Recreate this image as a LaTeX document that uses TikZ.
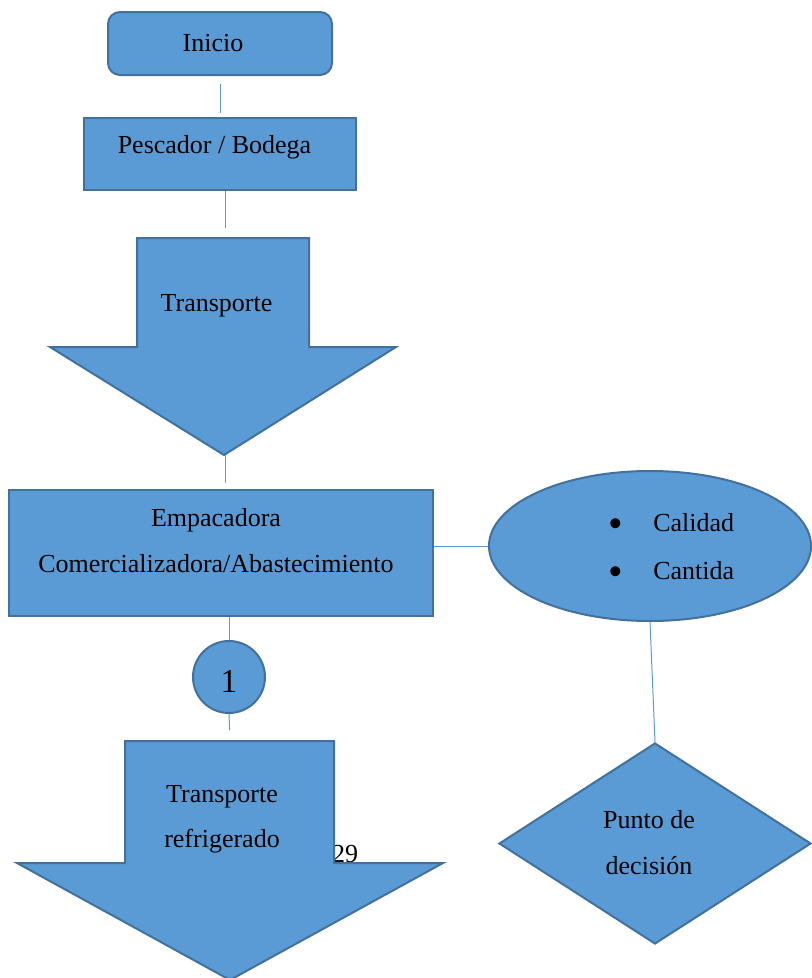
\documentclass[tikz,border=0pt]{standalone}
\usepackage{fontspec}
\setmainfont{Liberation Serif}
\usepackage{xcolor}
\definecolor{officeblue}{RGB}{91,155,213}
\definecolor{officeedge}{RGB}{65,113,156}
\usetikzlibrary{shapes.geometric}
\tikzset{
  box/.style={draw=officeedge, fill=officeblue, line width=1.5pt, inner sep=0pt},
  link/.style={draw=officeblue, line width=0.75pt},
  lbl/.style={font=\fontsize{19.5}{23}\selectfont, inner sep=0pt, anchor=base}
}
\newcommand\bigdot{\makebox[34.5pt][l]{\hspace{1pt}\raisebox{-4.5pt}{\scalebox{1.6}{\textbullet}}}}

\begin{document}
\begin{tikzpicture}[x=0.75pt,y=-0.75pt]
\useasboundingbox (0,0) rectangle (811,978);
\node[box, rounded corners=9pt, minimum width=168pt, minimum height=47.25pt] (inicio) at (220,43.5) {};
\node[lbl] (inicioT) at (213,51) {Inicio};
\node[box, minimum width=204pt, minimum height=54pt] (pesc) at (220,154) {};
\node[lbl] (pescT) at (214.5,153) {Pescador / Bodega};
\draw[box, line join=miter] (137,238) -- (309,238) -- (309,347) -- (396,347)
    -- (224,455) -- (50,347) -- (137,347) -- cycle;
\coordinate (tr1top) at (225,238);
\coordinate (tr1tip) at (225,455);
\node[lbl] (tr1T) at (216.5,311) {Transporte};
\node[box, minimum width=318pt, minimum height=94.5pt] (emp) at (221,553) {};
\node[lbl] (empT) at (216,526) {Empacadora};
\node[lbl] (comT) at (216,572) {Comercializadora/Abastecimiento};
\node[box, ellipse, minimum width=241.5pt, minimum height=112.5pt] (ell) at (650,546) {};
\node[lbl, anchor=base west] (calT) at (607,531) {\bigdot Calidad};
\node[lbl, anchor=base west] (canT) at (607,579) {\bigdot Cantida};
\node[box, ellipse, minimum width=54pt, minimum height=54pt] (one) at (229,677) {};
\node[lbl, font=\fontsize{25}{30}\selectfont] (oneT) at (229,692) {1};
\node[lbl] (pageT) at (345,862) {29};
\draw[box, line join=miter] (125,741) -- (334,741) -- (334,863) -- (443,863)
    -- (230,980) -- (17,863) -- (125,863) -- cycle;
\coordinate (tr2top) at (230,741);
\node[lbl] (tr2T) at (222,802) {Transporte};
\node[lbl] (refT) at (222,847) {refrigerado};
\node[box, diamond, minimum width=234pt, minimum height=150.75pt] (dec) at (655,843.5) {};
\node[lbl] (decT) at (649,828) {Punto de};
\node[lbl] (dec2T) at (649,874) {decisión};
% connectors
\draw[link, shorten <=6pt, shorten >=3pt] (inicio.south) -- (inicio.south |- pesc.north);
\draw[link, shorten >=7.5pt] (tr1top |- pesc.south) -- (tr1top);
\draw[link, shorten >=4.5pt] (tr1tip) -- (tr1tip |- emp.north);
\draw[link] (emp.east |- ell.west) -- (ell.west);
\draw[link] (one.north |- emp.south) -- (one.north);
\draw[link, shorten >=8pt] (one.south) -- (tr2top);
\draw[link] (ell.south) -- (dec.north);
\end{tikzpicture}
\end{document}
